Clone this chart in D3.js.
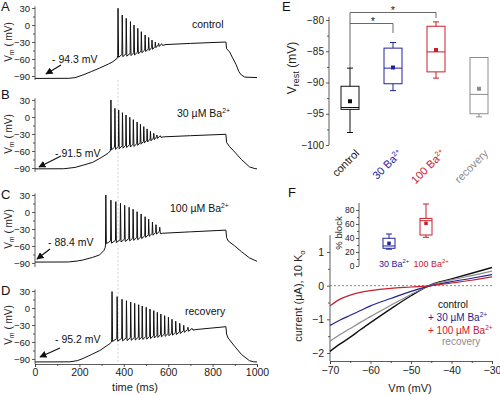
<!DOCTYPE html>
<html>
<head>
<meta charset="utf-8">
<script src="https://d3js.org/d3.v7.min.js"></script>
<style>
  body { margin: 0; background: #fff; }
  text { font-family: "Liberation Sans", Arial, sans-serif; }
</style>
</head>
<body>
<div id="chart"></div>
<script>
// ---------- data: voltage traces (A-D) ----------
var restLabels = ["- 94.3 mV", "- 91.5 mV", "- 88.4 mV", "- 95.2 mV"];
var condLabels = ["control", "30 µM Ba", "100 µM Ba", "recovery"];

var preA = [[0,-94.3],[150,-94.1],[180,-93],[217,-88],[255,-82],[291,-76],[330,-69],[351,-64.7],[370,-59]];
var timesA = [374,393,411,430,446,463,479,496,512,527,542,557,572];
var peaksA = [29.5,17.6,11.8,6,0,-5.8,-11.8,-17.6,-22,-26.5,-30,-32.3,-34];
var troughsA = [-57,-56,-55,-54,-53,-51,-49,-47,-45,-43,-40,-38,-36];
var postA = [[590,-34.5],[700,-32.5],[860,-30],[863,-42],[876,-47],[890,-58],[906,-70],[918,-82],[929,-88],[945,-92],[1000,-92.8]];

var preB = [[0,-91.5],[130,-91.3],[180,-89],[217,-85],[260,-80],[292,-73],[329,-64],[339,-60]];
var timesB = [342,360,377,394,410,427,443,460,475,490,505,520,535,549,565];
var peaksB = [30,15.3,12.4,7.6,3.5,-0.6,-4.7,-8.8,-12.9,-17,-21,-25.2,-28.7,-31.8,-33.5];
var troughsB = [-58,-57,-56,-55,-54,-53,-52,-50,-48,-46,-44,-42,-40,-38,-36];
var postB = [[580,-35],[700,-33],[860,-30.5],[863,-45],[876,-52],[900,-62],[930,-75],[966,-88],[990,-91],[1000,-91.5]];

var preC = [[0,-88.4],[150,-88.2],[190,-86.5],[217,-84.6],[260,-80],[291,-75.8],[310,-68],[316,-63]];
var timesC = [319,342,364,385,404,424,442,460,478,496,512,529,545,562];
var peaksC = [30,21,18.2,15.3,11.8,8.3,4.8,0.6,-3.5,-8.3,-12.9,-17.6,-22.4,-27];
var troughsC = [-56,-55,-54,-53,-52,-51,-50,-49,-47,-45,-43,-41,-39,-38];
var postC = [[575,-37.5],[700,-35],[860,-32],[863,-45],[870,-51],[900,-60],[930,-70],[966,-81],[1000,-87]];

var preD = [[0,-95.2],[157,-95],[190,-93],[217,-89],[255,-82],[292,-75],[337,-63],[345,-60]];
var timesD = [347,370,392,412,431,449,467,483,501,518,535,551,567,584,601,617,634,652,670,689,709];
var peaksD = [29,20,15.4,12.9,10.6,8.2,5.8,3.5,1.2,-1.8,-4.7,-7.6,-10.6,-13.5,-16.3,-19.9,-23.4,-27,-30.5,-34,-36.5];
var troughsD = [-59,-58.5,-58,-57.5,-57,-56.5,-56,-55.5,-55,-54,-53,-52,-51,-50,-49,-48,-47,-45,-43,-41,-39];
var postD = [[725,-38],[860,-33],[863,-46],[870,-53],[900,-68],[930,-82],[966,-93],[985,-95],[1000,-95.2]];

var vTicks = [30, 0, -30, -60, -90];
var tTicks = [0, 200, 400, 600, 800, 1000];

// ---------- data: panel E (resting potential) ----------
var eCats = ["control", "30", "100", "recovery"];
var eMin  = [-98, -91.3, -89.3, -95.5];
var eQ1   = [-94.3, -90.2, -88.3, -95.0];
var eMed  = [-94.0, -87.7, -85.1, -91.9];
var eQ3   = [-90.6, -84.5, -81.0, -86.0];
var eMax  = [-87.7, -83.6, -80.3, -86.0];
var eMean = [-93.0, -87.6, -84.8, -91.0];
var eTicks = [-100, -95, -90, -85, -80];

// ---------- data: panel F (I-V curves) ----------
var vmF = [-70,-67.5,-65,-62.5,-60,-55,-50,-45,-40,-35,-30];
var iControl  = [-1.95,-1.73,-1.53,-1.31,-1.1,-0.69,-0.3,0.03,0.2,0.37,0.54];
var iBa30     = [-1.18,-1.02,-0.88,-0.74,-0.6,-0.38,-0.17,0.0,0.12,0.22,0.33];
var iBa100    = [-0.6,-0.4,-0.28,-0.2,-0.15,-0.08,-0.04,0.0,0.08,0.16,0.26];
var iRecovery = [-1.65,-1.45,-1.27,-1.09,-0.92,-0.58,-0.26,0.02,0.17,0.3,0.43];
var fXTicks = [-70, -60, -50, -40, -30];
var fYTicks = [1, 0, -1, -2];

// inset: % block
var bCats = ["30", "100"];
var bMin  = [24, 41];
var bQ1   = [25.3, 44.3];
var bMed  = [28.6, 64.7];
var bQ3   = [39.6, 68];
var bMax  = [45.7, 88.6];
var bMean = [32.4, 61];

var black = "#111", blue = "#23239a", red = "#c8202a", gray = "#8c8c8c";
var eColors = [black, blue, red, gray];

var svg = d3.select('#chart').append('svg')
  .attr('width', 500).attr('height', 395)
  .style('background', '#fff');

svg.append('defs').append('marker')
  .attr('id', 'arrow').attr('viewBox', '0 0 10 10')
  .attr('refX', 9).attr('refY', 5)
  .attr('markerWidth', 6).attr('markerHeight', 6)
  .attr('orient', 'auto')
  .append('path').attr('d', 'M0,0L10,5L0,10z').attr('fill', black);

function styleAxis(g, fs) {
  g.select('.domain').attr('stroke', '#333').attr('stroke-width', 0.8);
  g.selectAll('.tick line').attr('stroke', '#333').attr('stroke-width', 0.8);
  g.selectAll('.tick text').attr('font-size', fs).attr('fill', '#222')
    .attr('font-family', '"Liberation Sans", Arial, sans-serif');
}

// superscript helper: main text + "2+"
function baText(sel, main) {
  sel.append('tspan').text(main);
  sel.append('tspan').attr('dy', -4).attr('font-size', '0.65em').text('2+');
}

// ---------- panels A-D ----------
var xT = d3.scaleLinear().domain([0, 1000]).range([35, 257]);
var panelTop = [8, 100, 195, 291];   // y of +30 mV
var letters = ["A", "B", "C", "D"];
var traceSets = [
  [preA, timesA, peaksA, troughsA, postA],
  [preB, timesB, peaksB, troughsB, postB],
  [preC, timesC, peaksC, troughsC, postC],
  [preD, timesD, peaksD, troughsD, postD]
];
var arrowFrom = [[61,65],[61,156],[50,249],[60,348]];
var arrowTo   = [[46,74],[39,167],[37,259],[40,357]];
var restPos   = [[52,63],[55,157],[48,246],[55,343]];
var condPos   = [[192,28],[177,117],[170,212],[185,315]];
var letterY   = [11, 99, 199, 295];

function buildTrace(set) {
  var pts = set[0].slice();
  var prevQ = pts[pts.length - 1][1];
  set[1].forEach(function(t, i) {
    pts.push([t - 1.5, prevQ + 5]);
    pts.push([t, set[2][i]]);
    pts.push([t + 2.5, set[3][i]]);
    prevQ = set[3][i];
  });
  return pts.concat(set[4]);
}

var line = d3.line()
  .x(function(d){ return xT(d[0]); })
  .y(function(d){ return d[1]; });

// dashed alignment line at first control spike
svg.append('line')
  .attr('x1', xT(timesA[0])).attr('x2', xT(timesA[0]))
  .attr('y1', 80).attr('y2', 363)
  .attr('stroke', '#c8c8c8').attr('stroke-width', 0.8)
  .attr('stroke-dasharray', '2,2');

panelTop.forEach(function(top, p) {
  var y = d3.scaleLinear().domain([-90, 30]).range([top + 68, top]);
  var g = svg.append('g');

  var yAxis = g.append('g').attr('transform', 'translate(35,0)')
    .call(d3.axisLeft(y).tickValues(vTicks).tickSize(3).tickPadding(2).tickFormat(d3.format('d')));
  yAxis.select('.domain').remove();
  styleAxis(yAxis, 9.5);
  var minor = g.append('g').attr('transform', 'translate(35,0)')
    .call(d3.axisLeft(y).tickValues([15, -15, -45, -75]).tickSize(2).tickFormat(''));
  minor.select('.domain').remove();
  styleAxis(minor, 9);
  var yBottom = p === 3 ? top + 73 : y(-97);
  g.append('line').attr('x1', 35).attr('x2', 35)
    .attr('y1', y(33)).attr('y2', yBottom)
    .attr('stroke', '#333').attr('stroke-width', 0.8);

  g.append('text').attr('x', 8).attr('y', top + 34)
    .attr('transform', 'rotate(-90,8,' + (top + 34) + ')')
    .attr('text-anchor', 'middle').attr('dominant-baseline', 'central')
    .attr('font-size', 10).attr('fill', '#222')
    .call(function(t){
      t.append('tspan').text('V');
      t.append('tspan').attr('dy', 2.5).attr('font-size', 7).text('m');
      t.append('tspan').attr('dy', -2.5).text(' ( mV)');
    });

  g.append('text').attr('x', 1).attr('y', letterY[p])
    .attr('font-size', 13).attr('fill', '#111').text(letters[p]);

  g.append('path')
    .datum(buildTrace(traceSets[p]).map(function(d){ return [d[0], y(d[1])]; }))
    .attr('d', line)
    .attr('fill', 'none').attr('stroke', black).attr('stroke-width', 1)
    .attr('stroke-linejoin', 'round');

  g.append('text').attr('x', restPos[p][0]).attr('y', restPos[p][1])
    .attr('font-size', 10.5).attr('fill', '#111').text(restLabels[p]);
  g.append('line')
    .attr('x1', arrowFrom[p][0]).attr('y1', arrowFrom[p][1])
    .attr('x2', arrowTo[p][0]).attr('y2', arrowTo[p][1])
    .attr('stroke', black).attr('stroke-width', 1.2)
    .attr('marker-end', 'url(#arrow)');

  var ct = g.append('text').attr('x', condPos[p][0]).attr('y', condPos[p][1])
    .attr('font-size', 10.5).attr('fill', '#111');
  if (p === 1 || p === 2) baText(ct, condLabels[p]); else ct.text(condLabels[p]);

  if (p === 3) {
    var xAxis = g.append('g').attr('transform', 'translate(0,' + (top + 73) + ')')
      .call(d3.axisBottom(xT).tickValues(tTicks).tickSize(3).tickPadding(2).tickFormat(d3.format('d')));
    styleAxis(xAxis, 10.5);
    var xMinor = g.append('g').attr('transform', 'translate(0,' + (top + 73) + ')')
      .call(d3.axisBottom(xT).tickValues([100, 300, 500, 700, 900]).tickSize(2).tickFormat(''));
    xMinor.select('.domain').remove();
    styleAxis(xMinor, 9);
    g.append('text').attr('x', 135).attr('y', 391)
      .attr('text-anchor', 'middle').attr('font-size', 11).attr('fill', '#222')
      .text('time (ms)');
  }
});

// ---------- panel E ----------
var yE = d3.scaleLinear().domain([-100, -80]).range([145, 20]);
var xE = d3.scalePoint().domain(eCats).range([350, 479]);
var gE = svg.append('g');

gE.append('text').attr('x', 282).attr('y', 11).attr('font-size', 13).attr('fill', '#111').text('E');

var eAxis = gE.append('g').attr('transform', 'translate(329,0)')
  .call(d3.axisLeft(yE).tickValues(eTicks).tickSize(3).tickPadding(2));
eAxis.select('.domain').remove();
styleAxis(eAxis, 10);
var eMinor = gE.append('g').attr('transform', 'translate(329,0)')
  .call(d3.axisLeft(yE).tickValues([-97.5, -92.5, -87.5, -82.5]).tickSize(2).tickFormat(''));
eMinor.select('.domain').remove();
styleAxis(eMinor, 9);
gE.append('line').attr('x1', 329).attr('x2', 329)
  .attr('y1', yE(-79.5)).attr('y2', yE(-100))
  .attr('stroke', '#333').attr('stroke-width', 0.8);

gE.append('text')
  .attr('transform', 'translate(296,68) rotate(-90)')
  .attr('text-anchor', 'middle').attr('font-size', 12).attr('fill', '#222')
  .call(function(t){
    t.append('tspan').text('V');
    t.append('tspan').attr('dy', 3).attr('font-size', 9).text('rest');
    t.append('tspan').attr('dy', -3).text(' (mV)');
  });

// significance brackets
var bw = 18;
gE.append('path')
  .attr('d', 'M' + xE('control') + ',' + yE(eMax[0]) + 'V12.5H' + xE('100') + 'V18')
  .attr('fill', 'none').attr('stroke', '#444').attr('stroke-width', 0.8);
gE.append('path')
  .attr('d', 'M' + xE('control') + ',23.5H' + xE('30') + 'V33')
  .attr('fill', 'none').attr('stroke', '#444').attr('stroke-width', 0.8);
gE.append('text').attr('x', 393).attr('y', 14).attr('text-anchor', 'middle')
  .attr('font-size', 11).attr('fill', '#222').text('*');
gE.append('text').attr('x', 373).attr('y', 25).attr('text-anchor', 'middle')
  .attr('font-size', 11).attr('fill', '#222').text('*');

eCats.forEach(function(c, i) {
  var cx = xE(c), col = eColors[i];
  var g = gE.append('g');
  g.append('line').attr('x1', cx).attr('x2', cx).attr('y1', yE(eMax[i])).attr('y2', yE(eQ3[i]))
    .attr('stroke', col).attr('stroke-width', 1);
  g.append('line').attr('x1', cx).attr('x2', cx).attr('y1', yE(eQ1[i])).attr('y2', yE(eMin[i]))
    .attr('stroke', col).attr('stroke-width', 1);
  [eMax[i], eMin[i]].forEach(function(v) {
    g.append('line').attr('x1', cx - 3).attr('x2', cx + 3).attr('y1', yE(v)).attr('y2', yE(v))
      .attr('stroke', col).attr('stroke-width', 1);
  });
  g.append('rect').attr('x', cx - bw / 2).attr('y', yE(eQ3[i]))
    .attr('width', bw).attr('height', yE(eQ1[i]) - yE(eQ3[i]))
    .attr('fill', 'none').attr('stroke', col).attr('stroke-width', 1);
  g.append('line').attr('x1', cx - bw / 2).attr('x2', cx + bw / 2)
    .attr('y1', yE(eMed[i])).attr('y2', yE(eMed[i]))
    .attr('stroke', col).attr('stroke-width', 1);
  g.append('rect').attr('x', cx - 2).attr('y', yE(eMean[i]) - 2)
    .attr('width', 4).attr('height', 4).attr('fill', col);

  var lt = g.append('text')
    .attr('transform', 'translate(' + (cx + 10) + ',154) rotate(-45)')
    .attr('text-anchor', 'end').attr('font-size', 11).attr('fill', col);
  if (i === 1 || i === 2) baText(lt, c + ' Ba'); else lt.text(c);
});

// ---------- panel F ----------
var xF = d3.scaleLinear().domain([-70, -30]).range([330, 492]);
var yF = d3.scaleLinear().domain([-2, 1]).range([353, 252]);
var gF = svg.append('g');

gF.append('text').attr('x', 288).attr('y', 197).attr('font-size', 13).attr('fill', '#111').text('F');

var fx = gF.append('g').attr('transform', 'translate(0,361)')
  .call(d3.axisBottom(xF).tickValues(fXTicks).tickSize(3).tickPadding(3));
styleAxis(fx, 10.5);
var fxm = gF.append('g').attr('transform', 'translate(0,361)')
  .call(d3.axisBottom(xF).tickValues([-65, -55, -45, -35]).tickSize(2).tickFormat(''));
fxm.select('.domain').remove();
styleAxis(fxm, 9);
var fy = gF.append('g').attr('transform', 'translate(330,0)')
  .call(d3.axisLeft(yF).tickValues(fYTicks).tickSize(3).tickPadding(3).tickFormat(d3.format('d')));
fy.select('.domain').remove();
styleAxis(fy, 10.5);
var fym = gF.append('g').attr('transform', 'translate(330,0)')
  .call(d3.axisLeft(yF).tickValues([0.5, -0.5, -1.5]).tickSize(2).tickFormat(''));
fym.select('.domain').remove();
styleAxis(fym, 9);
gF.append('line').attr('x1', 330).attr('x2', 330).attr('y1', yF(1.5)).attr('y2', 361)
  .attr('stroke', '#333').attr('stroke-width', 0.8);

gF.append('line').attr('x1', 330).attr('x2', 492).attr('y1', yF(0)).attr('y2', yF(0))
  .attr('stroke', '#555').attr('stroke-width', 0.7).attr('stroke-dasharray', '2,2');

gF.append('text').attr('x', 410).attr('y', 392).attr('text-anchor', 'middle')
  .attr('font-size', 11).attr('fill', '#222').text('Vm (mV)');
gF.append('text')
  .attr('transform', 'translate(302,296) rotate(-90)')
  .attr('text-anchor', 'middle').attr('font-size', 11).attr('fill', '#222')
  .call(function(t){
    t.append('tspan').text('current (μA), 10 K');
    t.append('tspan').attr('dy', 3).attr('font-size', 8).text('o');
  });

var ivLine = d3.line()
  .x(function(d, i){ return xF(vmF[i]); })
  .y(function(d){ return yF(d); })
  .curve(d3.curveMonotoneX);
[[iControl, black, 1.4], [iRecovery, gray, 1.2], [iBa30, blue, 1.2], [iBa100, red, 1.2]]
  .forEach(function(s) {
    gF.append('path').attr('d', ivLine(s[0]))
      .attr('fill', 'none').attr('stroke', s[1]).attr('stroke-width', s[2]);
  });

// legend
var legend = [
  ['control', black, 438, 308],
  ['+ 30 µM Ba', blue, 428, 321],
  ['+ 100 µM Ba', red, 428, 334],
  ['recovery', gray, 442, 345]
];
legend.forEach(function(l, i) {
  var t = gF.append('text').attr('x', l[2]).attr('y', l[3])
    .attr('font-size', 10).attr('fill', l[1]);
  if (i === 1 || i === 2) baText(t, l[0]); else t.text(l[0]);
});

// inset
var yI = d3.scaleLinear().domain([0, 80]).range([266, 210]);
var xI = d3.scalePoint().domain(bCats).range([389, 426]);
var bColors = [blue, red];
var ia = gF.append('g').attr('transform', 'translate(359,0)')
  .call(d3.axisLeft(yI).tickValues([0, 20, 40, 60, 80]).tickSize(3).tickPadding(1.5));
ia.select('.domain').remove();
styleAxis(ia, 8.5);
var iam = gF.append('g').attr('transform', 'translate(359,0)')
  .call(d3.axisLeft(yI).tickValues([10, 30, 50, 70]).tickSize(2).tickFormat(''));
iam.select('.domain').remove();
styleAxis(iam, 9);
gF.append('line').attr('x1', 359).attr('x2', 359).attr('y1', yI(90)).attr('y2', yI(0))
  .attr('stroke', '#333').attr('stroke-width', 0.8);
gF.append('text').attr('transform', 'translate(342,233) rotate(-90)')
  .attr('text-anchor', 'middle').attr('font-size', 9.5).attr('fill', '#222').text('% block');

bCats.forEach(function(c, i) {
  var cx = xI(c), col = bColors[i], w = 12;
  var g = gF.append('g');
  g.append('line').attr('x1', cx).attr('x2', cx).attr('y1', yI(bMax[i])).attr('y2', yI(bQ3[i]))
    .attr('stroke', col).attr('stroke-width', 1);
  g.append('line').attr('x1', cx).attr('x2', cx).attr('y1', yI(bQ1[i])).attr('y2', yI(bMin[i]))
    .attr('stroke', col).attr('stroke-width', 1);
  [bMax[i], bMin[i]].forEach(function(v) {
    g.append('line').attr('x1', cx - 3).attr('x2', cx + 3).attr('y1', yI(v)).attr('y2', yI(v))
      .attr('stroke', col).attr('stroke-width', 1);
  });
  g.append('rect').attr('x', cx - w / 2).attr('y', yI(bQ3[i]))
    .attr('width', w).attr('height', yI(bQ1[i]) - yI(bQ3[i]))
    .attr('fill', 'none').attr('stroke', col).attr('stroke-width', 1);
  g.append('line').attr('x1', cx - w / 2).attr('x2', cx + w / 2)
    .attr('y1', yI(bMed[i])).attr('y2', yI(bMed[i]))
    .attr('stroke', col).attr('stroke-width', 1);
  g.append('rect').attr('x', cx - 1.75).attr('y', yI(bMean[i]) - 1.75)
    .attr('width', 3.5).attr('height', 3.5).attr('fill', col);
  var t = g.append('text').attr('x', cx + 5).attr('y', 267)
    .attr('text-anchor', 'middle').attr('font-size', 9).attr('fill', col);
  baText(t, c + ' Ba');
});
</script>
</body>
</html>
